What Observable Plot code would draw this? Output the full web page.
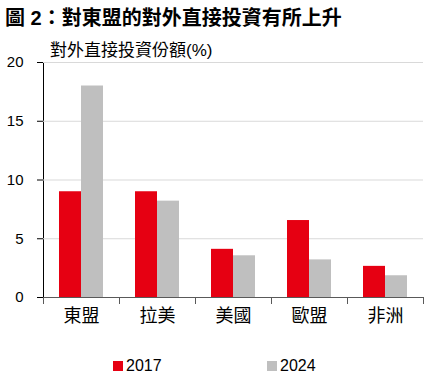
<!DOCTYPE html>
<html>
<head>
<meta charset="utf-8">
<script src="https://cdn.jsdelivr.net/npm/d3@7"></script>
<script src="https://cdn.jsdelivr.net/npm/@observablehq/plot@0.6"></script>
<style>
  html, body { margin: 0; padding: 0; background: #fff; }
  #wrap { position: relative; width: 430px; height: 382px; overflow: hidden;
          font-family: "Liberation Sans", Arial, "Noto Sans CJK TC", sans-serif; color: #000; }
  #title { position: absolute; left: 5px; top: 2px; font-size: 20px; font-weight: bold;
           font-family: "Liberation Sans", Arial, "Noto Sans CJK TC", sans-serif; white-space: nowrap; }
  #ylabel { position: absolute; left: 50px; top: 36px; font-size: 17px; white-space: nowrap; }
  #legend { position: absolute; top: 357px; left: 0; width: 430px; font-size: 16px; }
  .item { position: absolute; display: flex; align-items: center; }
  .sw { width: 10px; height: 10px; margin-right: 3px; }
  #chart { position: absolute; left: 0; top: 0; }
</style>
</head>
<body>
<div id="wrap">
  <div id="chart"></div>
  <div id="title">圖 2：對東盟的對外直接投資有所上升</div>
  <div id="ylabel">對外直接投資份額(%)</div>
  <div id="legend"></div>
</div>
<script>
const categories = ["東盟", "拉美", "美國", "歐盟", "非洲"];
const years = ["2017", "2024"];
const share2017 = [9.0, 9.0, 4.1, 6.55, 2.65];
const share2024 = [18.0, 8.2, 3.55, 3.2, 1.85];
const yTicks = [0, 5, 10, 15, 20];
const colors = ["#E60012", "#BFBFBF"];

const data = categories.flatMap((c, i) => [
  {cat: c, year: years[0], value: share2017[i]},
  {cat: c, year: years[1], value: share2024[i]}
]);

const H = 382, MT = 62, MB = 85;
const axisColor = "#595959";

const chart = Plot.plot({
  width: 430,
  height: H,
  marginTop: MT,
  marginBottom: MB,
  marginLeft: 43,
  marginRight: 7,
  style: {fontFamily: "'Liberation Sans', Arial, 'Noto Sans CJK TC', sans-serif", fontSize: "15px", background: "transparent", color: "#000"},
  fx: {domain: categories, padding: 0, label: null},
  x: {domain: years, paddingInner: 0, paddingOuter: 0.69, axis: null},
  y: {domain: [0, 20], ticks: yTicks, label: null, line: true, tickSize: 6, tickPadding: 14},
  color: {domain: years, range: colors},
  marks: [
    Plot.gridY(yTicks.filter(d => d > 0), {stroke: "#d9d9d9", strokeOpacity: 1}),
    Plot.barY(data, {fx: "cat", x: "year", y: "value", fill: "year"}),
    Plot.ruleY([0], {stroke: axisColor}),
    Plot.frame({anchor: "left", stroke: axisColor, insetTop: H - MT - MB, insetBottom: -6}),
    Plot.frame({anchor: "right", stroke: axisColor, insetTop: H - MT - MB, insetBottom: -6}),
    Plot.axisFx({anchor: "bottom", tickSize: 0, tickPadding: 12, fontSize: 18, label: null})
  ]
});
document.getElementById("chart").appendChild(chart);

const legend = document.getElementById("legend");
const lx = [113, 267];
years.forEach((y, i) => {
  const it = document.createElement("div");
  it.className = "item";
  it.style.left = lx[i] + "px";
  it.innerHTML = `<div class="sw" style="background:${colors[i]}"></div><span>${y}</span>`;
  legend.appendChild(it);
});
</script>
</body>
</html>
